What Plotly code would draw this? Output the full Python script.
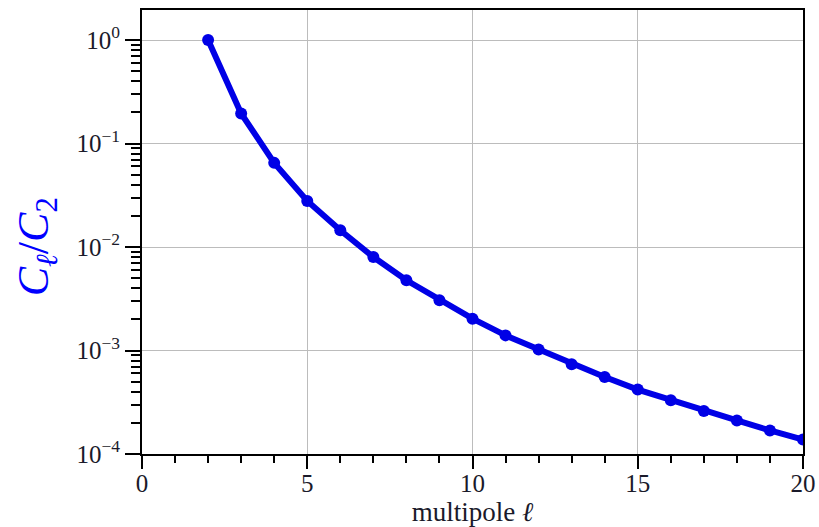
import plotly.graph_objects as go

ell = list(range(2, 21))
ratio = [1.0, 0.195, 0.065, 0.0279, 0.0145, 0.0080, 0.00477, 0.00306, 0.00203,
         0.00140, 0.00102, 0.000736, 0.000555, 0.000419, 0.00033, 0.00026,
         0.000211, 0.000169, 0.000138]

ytick_vals = [1e-4, 1e-3, 1e-2, 1e-1, 1]
ytick_text = ["10<sup>\u22124</sup>", "10<sup>\u22123</sup>", "10<sup>\u22122</sup>",
              "10<sup>\u22121</sup>", "10<sup>0</sup>"]
xtick_vals = [0, 5, 10, 15, 20]

yminor = [k * 10.0 ** d for d in range(-4, 0) for k in range(2, 10)]

fig = go.Figure()
fig.add_trace(go.Scatter(
    x=ell, y=ratio, mode="lines+markers",
    line=dict(color="#0000e6", width=6),
    marker=dict(color="#0000e6", size=12, symbol="circle"),
    showlegend=False,
))

serif = "Liberation Serif"
fig.update_layout(
    width=819, height=527,
    margin=dict(l=142, r=16, t=10, b=73),
    paper_bgcolor="white", plot_bgcolor="white",
    font=dict(family=serif, color="#1a1a2a", size=25),
    xaxis=dict(
        range=[0, 20], tickvals=xtick_vals, ticktext=[str(v) for v in xtick_vals],
        ticks="outside", ticklen=13, tickwidth=2, tickcolor="black",
        showline=True, linecolor="black", linewidth=2, mirror=True,
        showgrid=True, gridcolor="#bcbcbc", gridwidth=1.2, zeroline=False,
        minor=dict(dtick=1, tick0=0, ticks="outside", ticklen=7, tickwidth=2,
                   tickcolor="black", showgrid=False),
        ticklabelstandoff=-7, automargin=False,
        title=dict(text="multipole <i>\u2113</i>", font=dict(size=27, family=serif),
                   standoff=4),
        tickfont=dict(size=25, family=serif),
    ),
    yaxis=dict(
        type="log", range=[-4, 0.29], automargin=False,
        tickvals=ytick_vals, ticktext=ytick_text,
        ticks="outside", ticklen=15, tickwidth=2, tickcolor="black",
        showline=True, linecolor="black", linewidth=2, mirror=True,
        showgrid=True, gridcolor="#bcbcbc", gridwidth=1.2, zeroline=False,
        minor=dict(tickvals=yminor, ticks="outside", ticklen=9, tickwidth=2,
                   tickcolor="black", showgrid=False),
        tickfont=dict(size=25, family=serif),
    ),
    annotations=[dict(
        text="<i>C</i><sub><i>\u2113</i></sub>/<i>C</i><sub>2</sub>",
        xref="paper", yref="paper", x=-0.16, y=0.466,
        xanchor="center", yanchor="middle", textangle=-90, showarrow=False,
        font=dict(size=44, color="#0000ff", family=serif),
    )],
)

fig.write_html(
    "out.html",
    config={"displayModeBar": False},
    post_script="document.body.style.margin='0';document.body.style.overflow='hidden';",
)
